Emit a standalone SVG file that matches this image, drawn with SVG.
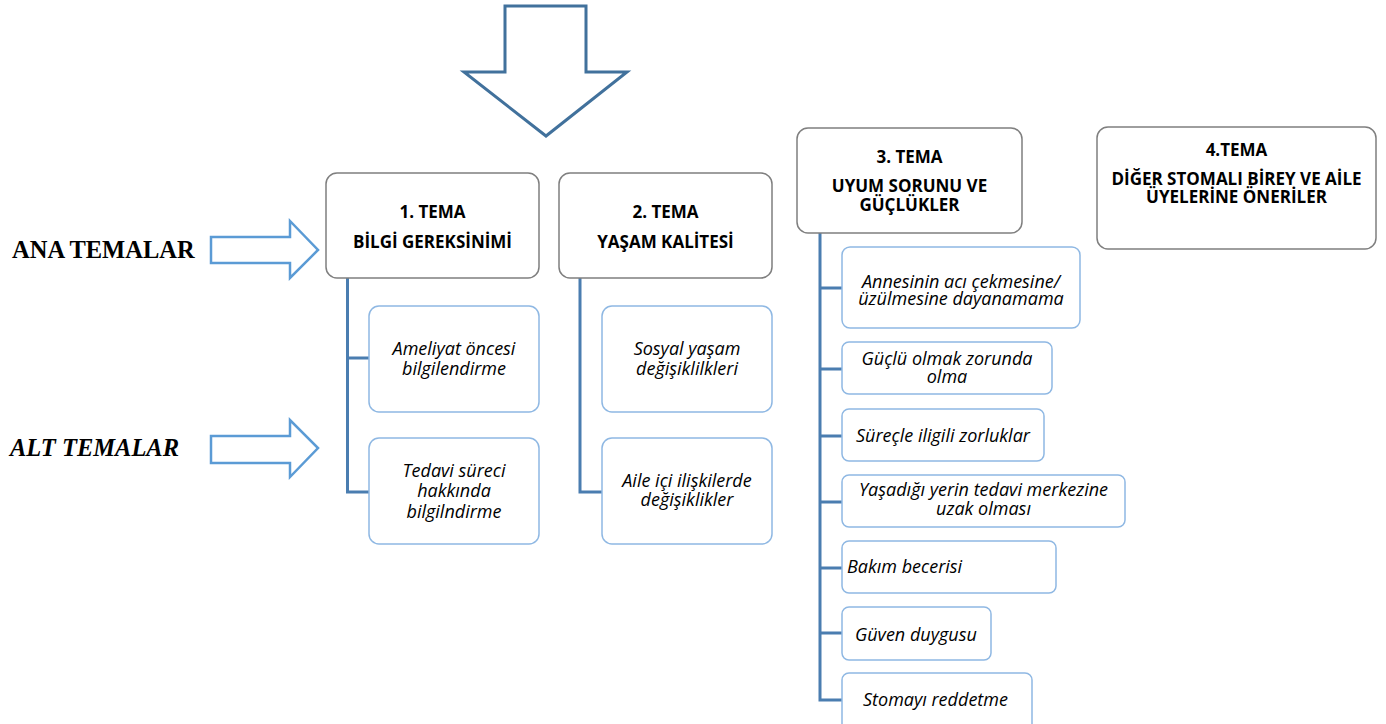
<svg xmlns="http://www.w3.org/2000/svg" width="1386" height="724" viewBox="0 0 1386 724">
<style>
.tema{fill:#fff;stroke:#7f7f7f;stroke-width:1.5}
.sub{fill:#fff;stroke:#8fb8e3;stroke-width:1.5}
.tt{font-family:"Open Sans",Lato,sans-serif;font-weight:bold;font-size:17px;fill:#000;text-anchor:middle}
.st{font-family:"Open Sans",Lato,sans-serif;font-style:italic;font-size:18px;fill:#000;text-anchor:middle}
.sl{font-family:"Open Sans",Lato,sans-serif;font-style:italic;font-size:18px;fill:#000;text-anchor:start}
.conn{fill:none;stroke:#4a7db0;stroke-width:3}
.side{fill:#fff;stroke:#5b9bd5;stroke-width:2.5}
.lbl{font-family:"Liberation Serif","Times New Roman",serif;font-weight:bold;font-size:24.5px;fill:#000}
</style>
<rect width="1386" height="724" fill="#fff"/>
<g id="big-arrow"><polygon points="505,6 586,6 586,72 627,72 546,136 464,72 505,72" fill="#fff" stroke="#41719c" stroke-width="3"/></g>
<g id="ana-temalar"><text class="lbl" x="12" y="258">ANA TEMALAR</text>
<polygon class="side" points="211,237 290,237 290,221 318,250 290,278 290,263 211,263"/></g>
<g id="alt-temalar"><text class="lbl" x="10" y="456" font-style="italic">ALT TEMALAR</text>
<polygon class="side" points="211,436 290,436 290,420 318,448 290,477 290,463 211,463"/></g>
<g id="connectors">
<path class="conn" d="M347.5,278 V492 H369 M347.5,358 H369"/>
<path class="conn" d="M580,278 V492 H602"/>
<path class="conn" d="M820,233 V700 H842 M820,288 H842 M820,369 H842 M820,436 H842 M820,502 H842 M820,568 H842 M820,633 H842"/>
</g>
<g id="tema1"><rect class="tema" x="326" y="173" width="213" height="105" rx="11"/>
<text class="tt" x="432.5" y="218">1. TEMA</text><text class="tt" x="432.5" y="248">BİLGİ GEREKSİNİMİ</text></g>
<g id="tema2"><rect class="tema" x="559" y="173" width="213" height="105" rx="11"/>
<text class="tt" x="665.5" y="218">2. TEMA</text><text class="tt" x="665.5" y="248">YAŞAM KALİTESİ</text></g>
<g id="tema3"><rect class="tema" x="797" y="128" width="225" height="105" rx="11"/>
<text class="tt" x="909.5" y="163">3. TEMA</text><text class="tt" x="909.5" y="192">UYUM SORUNU VE</text><text class="tt" x="909.5" y="211">GÜÇLÜKLER</text></g>
<g id="tema4"><rect class="tema" x="1097" y="127" width="279" height="122" rx="11"/>
<text class="tt" x="1236.5" y="156">4.TEMA</text><text class="tt" x="1236.5" y="185">DİĞER STOMALI BİREY VE AİLE</text><text class="tt" x="1236.5" y="203">ÜYELERİNE ÖNERİLER</text></g>
<g id="sub1a"><rect class="sub" x="369" y="306" width="170" height="106" rx="10"/>
<text class="st" x="454" y="355">Ameliyat öncesi</text><text class="st" x="454" y="375">bilgilendirme</text></g>
<g id="sub1b"><rect class="sub" x="369" y="438" width="170" height="106" rx="10"/>
<text class="st" x="454" y="477">Tedavi süreci</text><text class="st" x="454" y="497">hakkında</text><text class="st" x="454" y="518">bilgilndirme</text></g>
<g id="sub2a"><rect class="sub" x="602" y="306" width="170" height="106" rx="10"/>
<text class="st" x="687" y="355">Sosyal yaşam</text><text class="st" x="687" y="375">değişiklilkleri</text></g>
<g id="sub2b"><rect class="sub" x="602" y="438" width="170" height="106" rx="10"/>
<text class="st" x="687" y="487">Aile içi ilişkilerde</text><text class="st" x="687" y="506">değişiklikler</text></g>
<g id="sub3a"><rect class="sub" x="842" y="247" width="238" height="81" rx="8"/>
<text class="st" x="961" y="288">Annesinin acı çekmesine/</text><text class="st" x="961" y="305">üzülmesine dayanamama</text></g>
<g id="sub3b"><rect class="sub" x="842" y="342" width="210" height="52" rx="7"/>
<text class="st" x="947" y="365">Güçlü olmak zorunda</text><text class="st" x="947" y="383">olma</text></g>
<g id="sub3c"><rect class="sub" x="842" y="409" width="202" height="52" rx="7"/>
<text class="st" x="943" y="442">Süreçle iligili zorluklar</text></g>
<g id="sub3d"><rect class="sub" x="842" y="475" width="283" height="52" rx="7"/>
<text class="st" x="983.5" y="496">Yaşadığı yerin tedavi merkezine</text><text class="st" x="983.5" y="515">uzak olması</text></g>
<g id="sub3e"><rect class="sub" x="842" y="541" width="214" height="52" rx="7"/>
<text class="sl" x="847" y="573">Bakım becerisi</text></g>
<g id="sub3f"><rect class="sub" x="842" y="607" width="149" height="53" rx="7"/>
<text class="sl" x="855" y="641">Güven duygusu</text></g>
<g id="sub3g"><rect class="sub" x="842" y="673" width="190" height="60" rx="7"/>
<text class="sl" x="863" y="706">Stomayı reddetme</text></g>
</svg>
